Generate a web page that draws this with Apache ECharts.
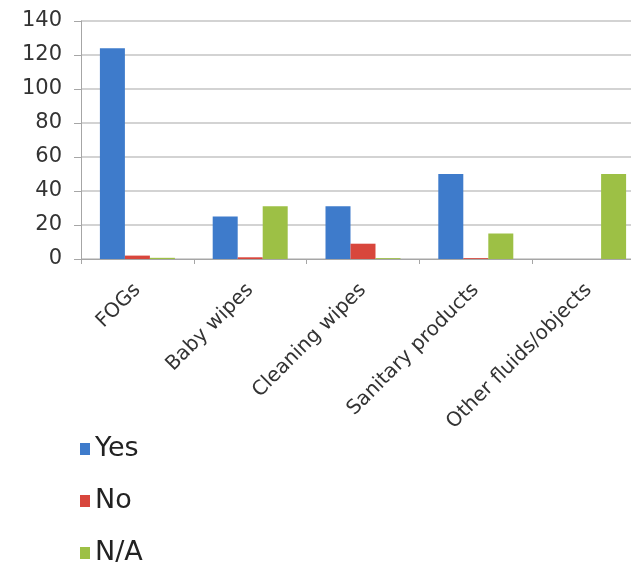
<!DOCTYPE html>
<html>
<head>
<meta charset="utf-8">
<script src="https://cdn.jsdelivr.net/npm/echarts@6/dist/echarts.min.js"></script>
<style>html,body{margin:0;padding:0;background:#fff;overflow:hidden;}#c{width:645px;height:571px;}</style>
</head>
<body>
<div id="c"></div>
<script>
const categories = ['FOGs', 'Baby wipes', 'Cleaning wipes', 'Sanitary products', 'Other fluids/objects'];
const yesValues = [124, 25, 31, 50, 0];
const noValues = [2, 1, 9, 0.5, 0];
const naValues = [0.7, 31, 0.5, 15, 50];
const yTicks = [0, 20, 40, 60, 80, 100, 120, 140];

const font = 'DejaVu Sans';
const chart = echarts.init(document.getElementById('c'), null, {renderer: 'canvas'});
chart.setOption({
  animation: false,
  backgroundColor: '#fff',
  grid: {left: 81, right: 0, top: 21, bottom: 312, containLabel: false},
  legend: {
    orient: 'vertical', left: 75, top: 429, height: 140,
    itemWidth: 10, itemHeight: 12, itemGap: 22, icon: 'rect',
    textStyle: {fontFamily: font, fontSize: 27, color: '#222', lineHeight: 30, padding: [0, 0, 0, 0]},
    data: ['Yes', 'No', 'N/A']
  },
  xAxis: {
    type: 'category', data: categories,
    axisLine: {lineStyle: {color: '#a6a6a6', width: 1}},
    axisTick: {show: true, length: 5, lineStyle: {color: '#a6a6a6'}},
    axisLabel: {rotate: 45, interval: 0, margin: 28, fontFamily: font, fontSize: 20, color: '#333'}
  },
  yAxis: {
    type: 'value', min: yTicks[0], max: yTicks[yTicks.length - 1], interval: 20,
    axisLine: {show: true, lineStyle: {color: '#a6a6a6', width: 1}},
    axisTick: {show: true, length: 7, lineStyle: {color: '#a6a6a6'}},
    splitLine: {lineStyle: {color: '#c4c4c4', width: 1.5}},
    axisLabel: {margin: 19, fontFamily: font, fontSize: 21, color: '#333'}
  },
  series: [
    {name: 'Yes', type: 'bar', data: yesValues, barWidth: 25, barGap: '0%', itemStyle: {color: '#3E7BCB'}},
    {name: 'No', type: 'bar', data: noValues, barWidth: 25, barGap: '0%', itemStyle: {color: '#D8463C'}},
    {name: 'N/A', type: 'bar', data: naValues, barWidth: 25, barGap: '0%', itemStyle: {color: '#9DC045'}}
  ]
});
</script>
</body>
</html>
